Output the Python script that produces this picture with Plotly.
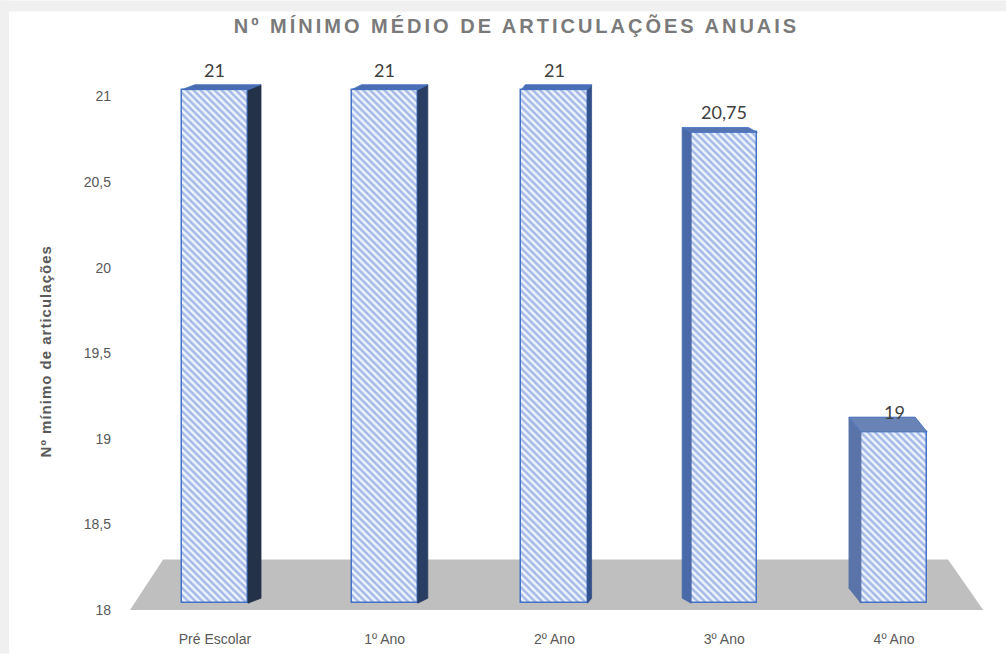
import plotly.graph_objects as go

# ---- data ----
CATEGORIES = ["Pré Escolar", "1º Ano", "2º Ano", "3º Ano", "4º Ano"]
VALUES = [21, 21, 21, 20.75, 19]
Y_TICKS = [18, 18.5, 19, 19.5, 20, 20.5, 21]
Y_TICK_LABELS = ["18", "18,5", "19", "19,5", "20", "20,5", "21"]
TITLE = "Nº MÍNIMO MÉDIO DE ARTICULAÇÕES ANUAIS"
Y_TITLE = "Nº mínimo de articulações"

# ---- canvas / axes geometry ----
W, H = 1006, 659
M_L, M_R, M_T, M_B = 130, 16, 55, 34
PLOT_W = W - M_L - M_R
PLOT_H = H - M_T - M_B
X_RANGE = [-0.5, 4.565]
Y_RANGE = [17.942, 21.243]
BASE = 18
BAR_LIFT = 0.0405          # bars stand slightly behind the axis plane
Y2_RANGE = [Y_RANGE[0] - BAR_LIFT, Y_RANGE[1] - BAR_LIFT]
BAR_WIDTH = 0.39

PX_X = PLOT_W / (X_RANGE[1] - X_RANGE[0])   # pixels per category unit
PX_Y = PLOT_H / (Y_RANGE[1] - Y_RANGE[0])   # pixels per value unit


def paper_x(px):
    return (px - M_L) / PLOT_W


def paper_y(py):
    return (H - M_B - py) / PLOT_H


# ---- 3-D look: depth of each column (pixels, right/up positive) ----
DEPTH = [(13, 5), (10, 5), (4, 5), (-9, 5), (-12, 15)]
SIDE_COLORS = ["#243249", "#2a3d63", "#33508a", "#4a69a8", "#5a74aa"]
TOP_COLORS = ["#4a6bb0", "#4a6db4", "#4a6eb6", "#5474b3", "#6a83b6"]
EDGE = "#4472c4"

FONT = "Liberation Sans"
TICK_FONT = dict(family=FONT, size=14, color="#595959")

fig = go.Figure()

# side and top faces of the columns
for i, v in enumerate(VALUES):
    dx = DEPTH[i][0] / PX_X
    dy = DEPTH[i][1] / PX_Y
    xl, xr = i - BAR_WIDTH / 2, i + BAR_WIDTH / 2
    xe = xr if dx > 0 else xl
    side_x = [xe, xe + dx, xe + dx, xe, xe]
    side_y = [v, v + dy, BASE + dy, BASE, v]
    top_x = [xl, xl + dx, xr + dx, xr, xl]
    top_y = [v, v + dy, v + dy, v, v]
    fig.add_trace(go.Scatter(
        x=side_x, y=side_y, yaxis="y2", mode="lines", fill="toself",
        fillcolor=SIDE_COLORS[i], line=dict(color=SIDE_COLORS[i], width=0.8),
        hoverinfo="skip", showlegend=False))
    fig.add_trace(go.Scatter(
        x=top_x, y=top_y, yaxis="y2", mode="lines", fill="toself",
        fillcolor=TOP_COLORS[i], line=dict(color=EDGE, width=0.8),
        hoverinfo="skip", showlegend=False))

# front faces of the columns
fig.add_trace(go.Bar(
    x=list(range(len(CATEGORIES))),
    y=[v - BASE for v in VALUES],
    base=BASE,
    width=BAR_WIDTH,
    yaxis="y2",
    marker=dict(
        color="#eef3fc",
        line=dict(color=EDGE, width=1.5),
        pattern=dict(shape="\\", fgcolor="#5a80d0", bgcolor="#eef3fc",
                     size=5, solidity=0.5),
    ),
    hoverinfo="skip",
    showlegend=False,
))

# value labels
annotations = []
for i, v in enumerate(VALUES):
    label = f"{v:g}".replace(".", ",")
    annotations.append(dict(
        x=i, y=v, xref="x", yref="y2", text=label, showarrow=False,
        yshift=20, yanchor="middle",
        font=dict(family="Lato", size=18, color="#404040")))

# axis title
annotations.append(dict(
    x=paper_x(45), y=paper_y(354), xref="paper", yref="paper",
    text=f'<span style="letter-spacing:1px"><b>{Y_TITLE}</b></span>',
    textangle=-90, showarrow=False, xanchor="center", yanchor="middle",
    font=dict(family=FONT, size=15, color="#595959")))

shapes = [
    # floor of the chart
    dict(type="path", xref="x", yref="y", layer="below",
         path=(f"M -0.5,{BASE} L 4.525,{BASE} "
               f"L 4.318,{BASE + 0.296} L -0.305,{BASE + 0.296} Z"),
         fillcolor="#bfbfbf", line=dict(width=0)),
    # light frame at top and left
    dict(type="rect", xref="paper", yref="paper", layer="below",
         x0=paper_x(0), x1=paper_x(W), y0=paper_y(11), y1=paper_y(0),
         fillcolor="#f0f0f0", line=dict(width=0)),
    dict(type="rect", xref="paper", yref="paper", layer="below",
         x0=paper_x(0), x1=paper_x(9), y0=paper_y(H), y1=paper_y(0),
         fillcolor="#f0f0f0", line=dict(width=0)),
]

fig.update_layout(
    width=W, height=H,
    margin=dict(l=M_L, r=M_R, t=M_T, b=M_B),
    paper_bgcolor="white", plot_bgcolor="white",
    title=dict(
        text=f'<span style="letter-spacing:3px"><b>{TITLE}</b></span>',
        x=516.5 / W, xanchor="center", y=1 - 26 / H, yanchor="middle",
        font=dict(family=FONT, size=20, color="#7a7a7a")),
    xaxis=dict(range=X_RANGE, tickvals=list(range(len(CATEGORIES))),
               ticktext=CATEGORIES, showgrid=False, zeroline=False,
               showline=False, ticks="", tickfont=TICK_FONT,
               ticklabelstandoff=9, fixedrange=True),
    yaxis=dict(range=Y_RANGE, tickvals=Y_TICKS, ticktext=Y_TICK_LABELS,
               showgrid=False, zeroline=False, showline=False, ticks="",
               tickfont=TICK_FONT, ticklabelstandoff=18, fixedrange=True),
    yaxis2=dict(range=Y2_RANGE, overlaying="y", visible=False,
                fixedrange=True),
    annotations=annotations,
    shapes=shapes,
    bargap=0,
)

fig.write_html("out.html")
